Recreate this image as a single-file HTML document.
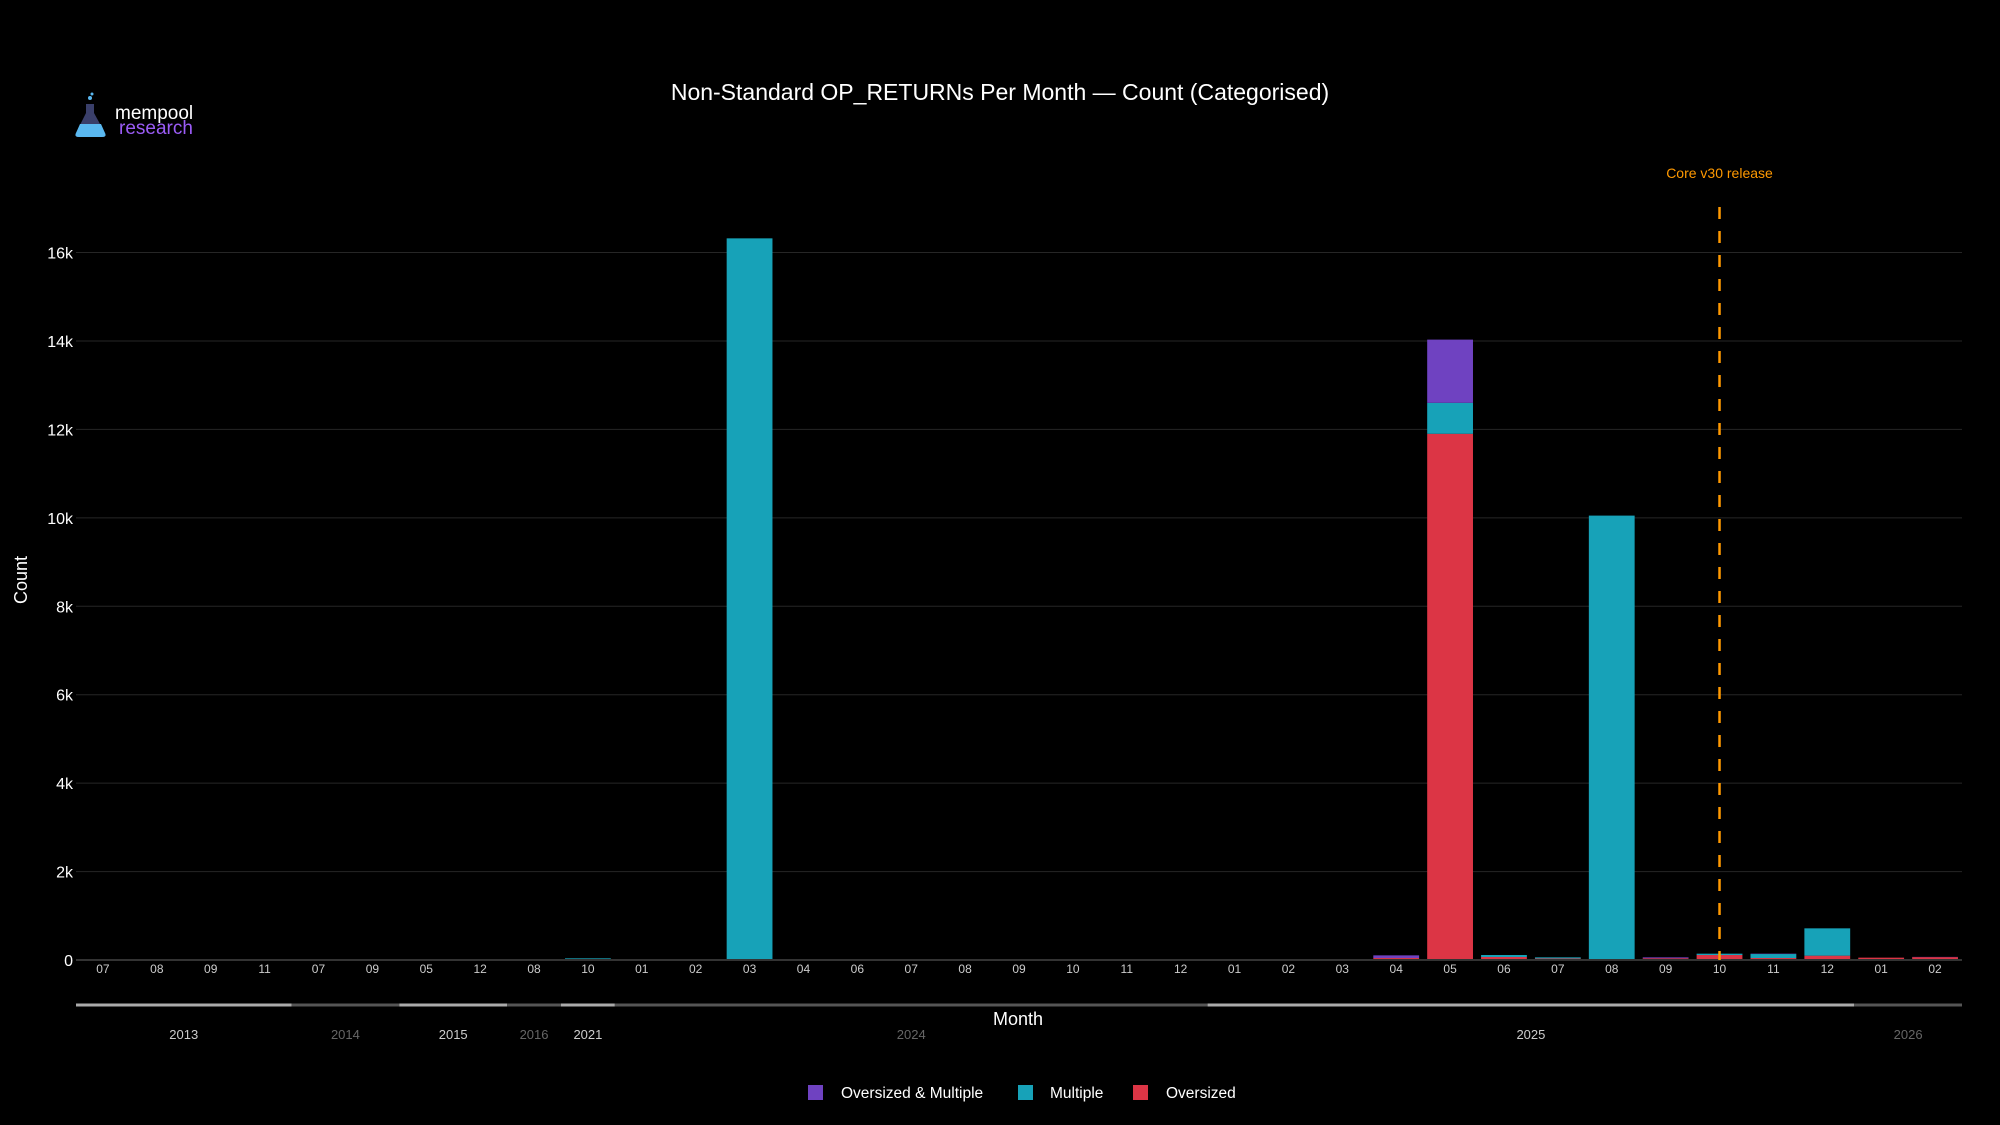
<!DOCTYPE html>
<html><head><meta charset="utf-8"><style>
html,body{margin:0;padding:0;background:#000;}
svg{display:block;font-family:"Liberation Sans",sans-serif;}
</style></head><body>
<svg id="chart" width="2000" height="1125" viewBox="0 0 2000 1125">
  <rect width="2000" height="1125" fill="#000"/>
  <text x="1000" y="100" fill="#fff" font-size="23" text-anchor="middle">Non-Standard OP_RETURNs Per Month — Count (Categorised)</text>
  <g>
    <path d="M86 104 L94 104 L94 113 L105 133 Q107 137 102 137 L79 137 Q74 137 76 133 L86 113 Z" fill="#3a3f6a"/>
    <path d="M80 124 L101 124 L105 133 Q107 137 102 137 L79 137 Q74 137 76 133 Z" fill="#5ab8f0"/>
    <circle cx="90" cy="98" r="2" fill="#5ab8f0"/><circle cx="92" cy="94" r="1.5" fill="#5ab8f0"/>
    <text x="115" y="119" fill="#fff" font-size="19">mempool</text>
    <text x="119" y="134" fill="#9b5cf6" font-size="19">research</text>
  </g>
  <g id="grid"></g>
  <g id="bars"></g>
  <g id="axes"></g>
  <text transform="translate(27,580) rotate(-90)" fill="#fff" font-size="18" text-anchor="middle">Count</text>
  <text x="1018" y="1025" fill="#fff" font-size="18" text-anchor="middle">Month</text>
  <g>
    <g><rect x="808" y="1085" width="15" height="15" fill="#6f42c1"/><text x="841" y="1098" fill="#fff" font-size="15.5">Oversized &amp; Multiple</text></g>
    <g><rect x="1018" y="1085" width="15" height="15" fill="#17a2b8"/><text x="1050" y="1098" fill="#fff" font-size="15.5">Multiple</text></g>
    <g><rect x="1133" y="1085" width="15" height="15" fill="#dc3545"/><text x="1166" y="1098" fill="#fff" font-size="15.5">Oversized</text></g>
  </g>
</svg>
<script>
const months = ["07","08","09","11","07","09","05","12","08","10","01","02","03","04","06","07","08","09","10","11","12","01","02","03","04","05","06","07","08","09","10","11","12","01","02"];
const years = ["2013","2013","2013","2013","2014","2014","2015","2015","2016","2021","2024","2024","2024","2024","2024","2024","2024","2024","2024","2024","2024","2025","2025","2025","2025","2025","2025","2025","2025","2025","2025","2025","2025","2026","2026"];
const oversized = [0,0,0,0,0,0,0,0,0,0,20,0,0,0,0,0,15,0,0,10,0,0,0,15,45,11900,68,35,20,40,113,45,98,53,65];
const multiple = [0,0,0,0,0,0,0,0,0,38,0,15,16320,0,0,0,0,0,0,0,0,0,0,0,0,700,45,25,10030,0,30,90,618,0,0];
const oversizedMultiple = [0,0,0,0,0,0,0,0,0,0,0,0,0,0,0,0,0,0,0,0,0,0,0,0,60,1430,0,0,0,20,0,8,0,0,5];
const yTicks = [0,2000,4000,6000,8000,10000,12000,14000,16000];
const yTickLabels = ["0","2k","4k","6k","8k","10k","12k","14k","16k"];
const releaseIndex = 30;

const NS="http://www.w3.org/2000/svg";
const x0=76, x1=1962, yZero=960, yTop=252.5, yMax=16000;
const band=(x1-x0)/months.length;
function xs(i){return x0+band*(i+0.5);}
function ys(v){return yZero-(yZero-yTop)*v/yMax;}
function mk(tag,attrs,parent){const e=document.createElementNS(NS,tag);for(const k in attrs)e.setAttribute(k,attrs[k]);parent.appendChild(e);return e;}
const grid=document.getElementById('grid'),bars=document.getElementById('bars'),axes=document.getElementById('axes');
yTicks.forEach((t,i)=>{
  if(t>0){const l=mk('line',{x1:x0,x2:x1,y1:ys(t),y2:ys(t),stroke:'#262626','stroke-width':1},grid);
  
  }
  const tx=mk('text',{x:73,y:ys(t)+6,fill:'#fff','font-size':16,'text-anchor':'end'},axes);
  tx.textContent=yTickLabels[i];
  
  
});
const bw=band*0.85;
months.forEach((m,i)=>{
  let base=0;
  [[oversized,'#dc3545','bar-oversized'],[multiple,'#17a2b8','bar-multiple'],[oversizedMultiple,'#6f42c1','bar-oversized-multiple']].forEach(([arr,col,name])=>{
    const v=arr[i]; if(v<=0) return;
    const r=mk('rect',{x:xs(i)-bw/2,y:ys(base+v),width:bw,height:ys(base)-ys(base+v),fill:col},bars);
    
    
    base+=v;
  });
  const tl=mk('text',{x:xs(i),y:973,fill:'#ccc','font-size':12,'text-anchor':'middle'},axes);
  tl.textContent=m;
  
  
});
const zl=mk('line',{x1:x0,x2:x1,y1:yZero,y2:yZero,stroke:'#333','stroke-width':2},axes);


let groups=[];years.forEach((y,i)=>{if(!groups.length||groups[groups.length-1].y!==y)groups.push({y,s:i,e:i});else groups[groups.length-1].e=i;});
groups.forEach((g,k)=>{
  const bright=k%2===0;
  const a=x0+band*g.s,b=x0+band*(g.e+1);
  const l=mk('line',{x1:a,x2:b,y1:1005,y2:1005,stroke:bright?'#aaa':'#555','stroke-width':3},axes);
  
  
  const t=mk('text',{x:(a+b)/2,y:1039,fill:bright?'#ccc':'#666','font-size':13,'text-anchor':'middle'},axes);
  t.textContent=g.y;
  
  
});
const rx=xs(releaseIndex);
const rl=mk('line',{x1:rx,x2:rx,y1:207,y2:yZero,stroke:'#ff9900','stroke-width':2.5,'stroke-dasharray':'12,12'},axes);


const rt=mk('text',{x:rx,y:178,fill:'#ff9900','font-size':14,'text-anchor':'middle'},axes);
rt.textContent='Core v30 release';


</script>
</body></html>
